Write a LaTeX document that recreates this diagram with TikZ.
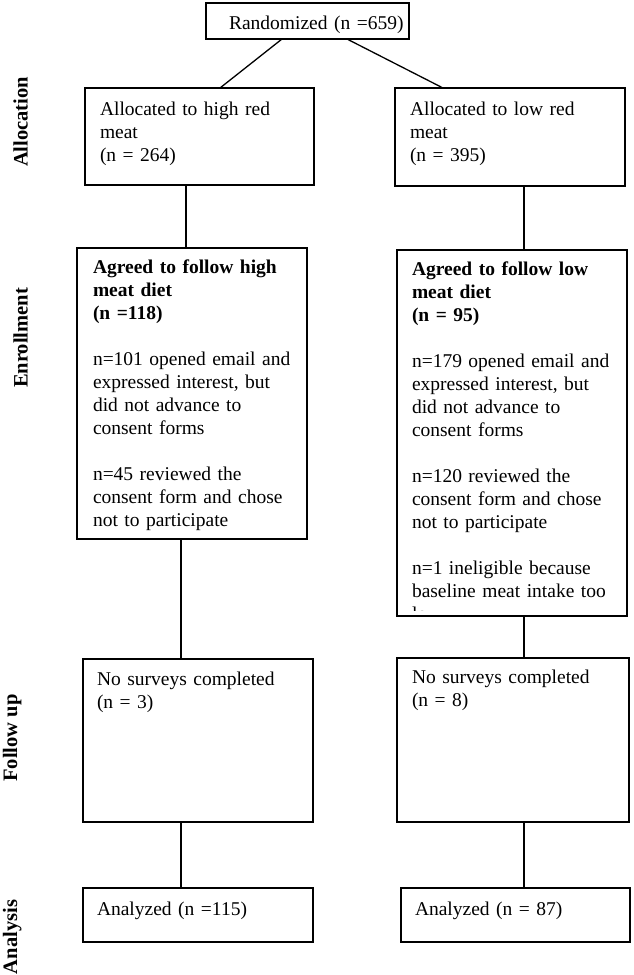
\documentclass[tikz,border=0pt]{standalone}
\usepackage{fontspec}
\setmainfont{Liberation Serif}
\usetikzlibrary{calc}
\begin{document}
\begin{tikzpicture}[x=1pt,y=-1pt,
  font=\fontsize{19.5}{23}\selectfont,
  boxnode/.style={draw, line width=1.3pt, anchor=north west, inner sep=0pt, outer sep=0pt},
  txt/.style={anchor=north west, inner sep=0pt, outer sep=0pt, align=left, text width=260pt},
  side/.style={rotate=90, anchor=base, inner sep=0pt, font=\fontsize{20.5}{23}\selectfont\bfseries},
  link/.style={line width=1.3pt}]
\fill[white] (0,0) rectangle (633,975);
\useasboundingbox (0,0) rectangle (633,975);

% boxes
\node[boxnode, minimum width=203pt, minimum height=36pt] (rand) at (206,3) {};
\node[boxnode, minimum width=229pt, minimum height=97pt] (allocH) at (85,88) {};
\node[boxnode, minimum width=230pt, minimum height=98pt] (allocL) at (395,88) {};
\node[boxnode, minimum width=230pt, minimum height=291pt] (enrH) at (77,248) {};
\node[boxnode, minimum width=230pt, minimum height=366pt] (enrL) at (397,250) {};
\node[boxnode, minimum width=230pt, minimum height=163pt] (fupH) at (83,659) {};
\node[boxnode, minimum width=232pt, minimum height=164pt] (fupL) at (397,658) {};
\node[boxnode, minimum width=230pt, minimum height=54pt] (anaH) at (83,888) {};
\node[boxnode, minimum width=229pt, minimum height=54pt] (anaL) at (401,888) {};

% texts
\node[txt] (tR) at (229,12.9) {\strut Randomized (n =659)};
\node[txt] (tAH) at (100,98.9) {\strut Allocated to high red\\meat\\(n = 264)};
\node[txt] (tAL) at (410,98.9) {\strut Allocated to low red\\meat\\(n = 395)};
\node[txt] (tEH) at (93,257.4) {\strut\textbf{Agreed to follow high}\\\textbf{meat diet}\\\textbf{(n =118)}\\[23pt]n=101 opened email and\\expressed interest, but\\did not advance to\\consent forms\\[23pt]n=45 reviewed the\\consent form and chose\\not to participate};
\begin{scope}
  \clip (enrL.north west) rectangle ([yshift=6pt]enrL.south east);
  \node[txt] (tEL) at (412,258.9) {\strut\textbf{Agreed to follow low}\\\textbf{meat diet}\\\textbf{(n = 95)}\\[23pt]n=179 opened email and\\expressed interest, but\\did not advance to\\consent forms\\[23pt]n=120 reviewed the\\consent form and chose\\not to participate\\[23pt]n=1 ineligible because\\baseline meat intake too\\low};
\end{scope}
\node[txt] (tFH) at (97,668.9) {\strut No surveys completed\\(n = 3)};
\node[txt] (tFL) at (412,667.4) {\strut No surveys completed\\(n = 8)};
\node[txt] (tNH) at (97,898.9) {\strut Analyzed (n =115)};
\node[txt] (tNL) at (415,898.9) {\strut Analyzed (n = 87)};

% side labels
\node[side] (lAlloc) at (27.5,122) {Allocation};
\node[side] (lEnr) at (27.5,338) {Enrollment};
\node[side] (lFup) at (17,738) {Follow up};
\node[side] (lAna) at (17,937) {Analysis};

% connectors
\coordinate (vH1) at (186,0);
\coordinate (vH2) at (181,0);
\coordinate (vL) at (524,0);
\draw[link] ([xshift=76pt]rand.south west) -- ([xshift=135pt]allocH.north west);
\draw[link] ([xshift=141pt]rand.south west) -- ([xshift=48pt]allocL.north west);
\draw[link] (allocH.south -| vH1) -- (enrH.north -| vH1);
\draw[link] (allocL.south -| vL) -- (enrL.north -| vL);
\draw[link] (enrH.south -| vH2) -- (fupH.north -| vH2);
\draw[link] (enrL.south -| vL) -- (fupL.north -| vL);
\draw[link] (fupH.south -| vH2) -- (anaH.north -| vH2);
\draw[link] (fupL.south -| vL) -- (anaL.north -| vL);
\end{tikzpicture}
\end{document}
